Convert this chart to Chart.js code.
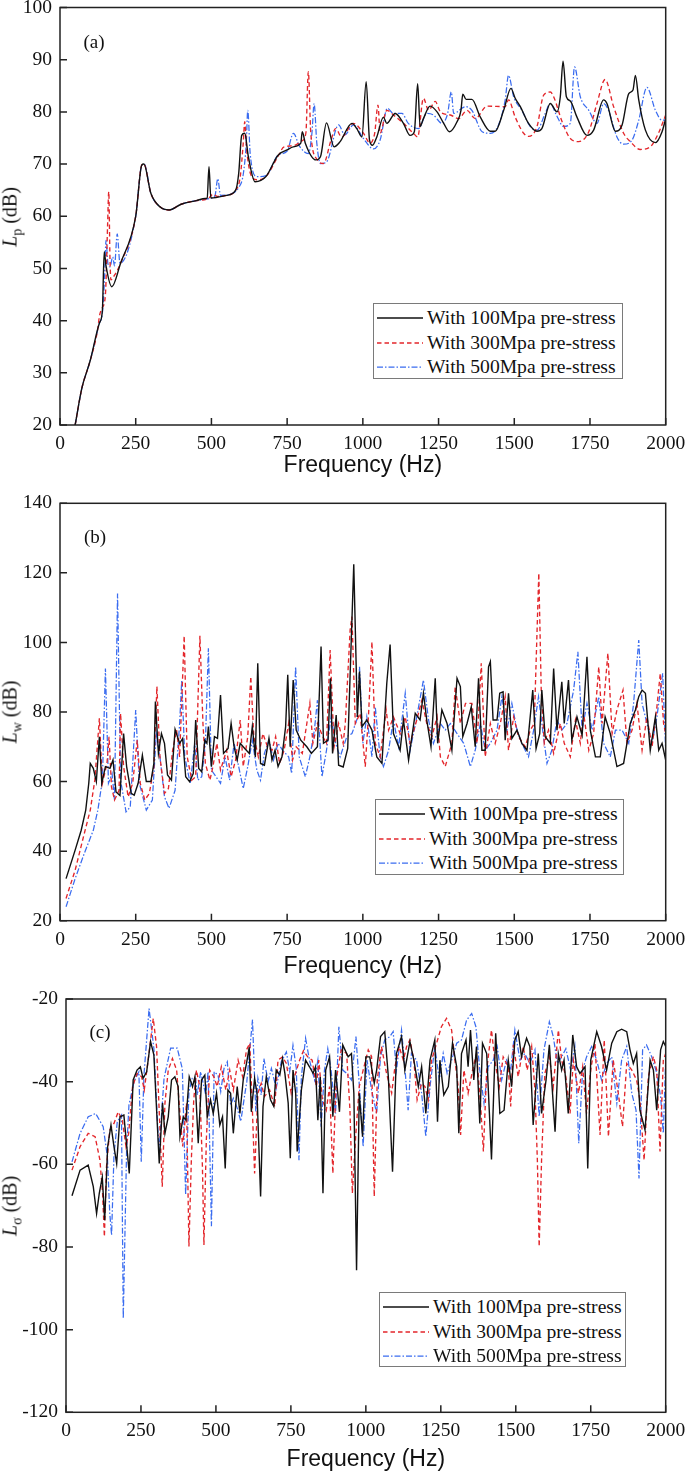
<!DOCTYPE html>
<html>
<head>
<meta charset="utf-8">
<script src="https://cdn.jsdelivr.net/npm/chart.js@4.4.0/dist/chart.umd.min.js"></script>
<style>
    body { margin: 0; background: #fff; width: 685px; height: 1474px; position: relative; overflow: hidden; font-family: "Liberation Serif", "Times New Roman", serif; color: #111; }
    canvas { position: absolute; left: 0; }
    .ytitle { position: absolute; font-size: 20px; white-space: nowrap; transform: translate(-50%, -50%) rotate(-90deg); }
    .ytitle sub { font-size: 14px; }
    .tag { position: absolute; font-size: 19px; transform: translate(-50%, -50%); }
    .legend { position: absolute; border: 1px solid #7a7a7a; background: #fff; box-sizing: border-box; }
    .legend .row { position: absolute; left: 0; height: 24px; line-height: 24px; font-size: 19.6px; white-space: nowrap; }
    .legend svg { position: absolute; left: 3px; top: 10px; }
    .legend span { position: absolute; left: 53px; top: 0; }
</style>
</head>
<body>
<canvas id="chartA" width="685" height="485" style="top:0px"></canvas>
<canvas id="chartB" width="685" height="490" style="top:490px"></canvas>
<canvas id="chartC" width="685" height="489" style="top:985px"></canvas>

<script>
/**
 * Three stacked frequency response plots (Lp, Lw, L-sigma) for three pre-stress levels.
 * Values are [frequency Hz, level dB] pairs.
 */

const seriesLabels = ['With 100Mpa pre-stress', 'With 300Mpa pre-stress', 'With 500Mpa pre-stress'];
const freqTicks = [0, 250, 500, 750, 1000, 1250, 1500, 1750, 2000];
const lpTicks = [20, 30, 40, 50, 60, 70, 80, 90, 100];
const lwTicks = [20, 40, 60, 80, 100, 120, 140];
const lsTicks = [-120, -100, -80, -60, -40, -20];

// (a) sound pressure level Lp
const lp100 = [[50,20],[72,27],[100,32.4],[130,39.5],[140,42],[146,53.2],[152,50.5],[171,46.5],[200,51],[250,60],[270,69.8],[277,70],[300,64.4],[330,61.8],[360,61.2],[400,62.3],[450,63],[480,63.4],[486,63.5],[492,69.5],[498,63.5],[550,64],[580,65],[590,68.2],[600,75.5],[610,75.9],[622,71.4],[644,66.6],[680,67.6],[720,71.7],[750,72.7],[770,73.3],[795,74],[800,76.2],[810,74],[845,70.8],[860,71.4],[880,77.9],[905,73.3],[925,74.3],[964,77.8],[980,76.8],[997,75.2],[1011,85.8],[1022,74.6],[1032,73.6],[1046,75.2],[1068,79],[1079,77.8],[1107,79.7],[1134,77.8],[1156,75.5],[1170,76.2],[1181,85.4],[1189,77.2],[1200,78.7],[1222,81.1],[1245,80],[1267,77.8],[1286,76.2],[1311,78.1],[1324,80.3],[1330,83.4],[1341,82.4],[1360,82.4],[1388,79],[1421,76.3],[1437,76.3],[1465,80.3],[1489,84.5],[1503,82.6],[1520,81],[1547,77.8],[1575,76.3],[1591,76.8],[1619,81.6],[1641,80],[1652,82.9],[1661,89.7],[1672,82.9],[1685,82.1],[1707,79],[1740,75.5],[1762,76.5],[1795,82.3],[1806,81.6],[1834,76.3],[1856,77.5],[1878,83.5],[1892,84.2],[1900,87],[1911,82.3],[1933,76.5],[1966,74.1],[1988,76.2],[2000,78.7]];
const lp300 = [[50,20],[72,27],[100,32.4],[125,38.5],[130,40.8],[140,42.5],[150,45],[157,58],[161,64.7],[165,52],[168,47.8],[180,48.7],[200,51],[250,60],[270,69.8],[277,70],[300,64.4],[330,61.8],[360,61.2],[400,62.3],[450,63],[490,63.4],[505,64.2],[520,63.8],[550,64],[580,65],[595,67.5],[605,74],[610,78.1],[616,73],[630,68],[650,67],[680,67.6],[720,71.5],[740,73.3],[770,73.5],[800,74.5],[812,76],[820,87.7],[828,76],[850,70.8],[870,70.1],[895,74.6],[910,76.8],[930,75.2],[969,77.8],[1002,75.9],[1024,74],[1039,75.9],[1050,81.3],[1057,75.9],[1079,80.3],[1101,79.4],[1134,77.8],[1167,75.9],[1181,75.2],[1200,82.6],[1217,80.3],[1239,82],[1256,80],[1289,79.4],[1316,78.7],[1344,80.3],[1371,78.7],[1410,81.1],[1470,81],[1481,82.3],[1503,79],[1531,75.9],[1547,75.3],[1575,77.2],[1597,83.2],[1619,83.8],[1630,82.9],[1658,78.1],[1685,74.9],[1713,74.3],[1746,76.2],[1773,81.6],[1800,86.2],[1828,81],[1861,75.9],[1883,74.3],[1916,72.8],[1949,73.3],[1976,75.9],[2000,79.4]];
const lp500 = [[50,20],[72,27],[100,32.4],[130,39.5],[140,41.5],[147,48],[152,55.4],[158,51],[165,50.3],[174,52.2],[180,50.5],[189,56.6],[198,51],[250,60],[270,69.8],[278,70],[300,64.4],[330,61.8],[360,61.2],[400,62.3],[450,63],[500,63.5],[512,64],[521,67.2],[530,64],[560,64.2],[590,65.5],[605,68],[615,74],[620,80.3],[628,72],[650,67.6],[680,67.8],[720,71.7],[750,72.5],[771,75.9],[790,73.5],[820,72],[832,76],[839,81.6],[848,74],[860,70.1],[880,70.4],[920,77.5],[940,75.6],[969,77.5],[1002,74.9],[1035,72.9],[1057,74.6],[1081,80.7],[1101,79.7],[1129,79.7],[1150,77.8],[1184,76.8],[1211,79.7],[1233,79.4],[1261,77.8],[1280,79.7],[1292,83.8],[1300,79.7],[1339,81],[1360,80.3],[1394,76.2],[1421,75.9],[1448,77.5],[1470,82.3],[1481,87],[1498,82.9],[1525,80.3],[1553,77.2],[1575,76.5],[1602,79.7],[1619,81.6],[1639,79.4],[1663,77.2],[1685,77.8],[1699,88.6],[1718,82.9],[1746,80.3],[1773,77.8],[1795,81.6],[1811,80.3],[1839,75.2],[1861,73.8],[1889,74.6],[1911,78.4],[1938,84.7],[1966,80.3],[1988,78.4],[2000,78.4]];

// (b) sound power level Lw
const lw100 = [[20,32.1],[50,40.3],[70,46],[85,51.8],[95,59.5],[100,65.2],[110,63.8],[120,60],[130,72.9],[138,59.5],[150,64.3],[165,63.8],[175,66.2],[185,57],[198,56],[210,73.8],[220,64.3],[235,56.6],[245,56.1],[258,59.5],[272,67.6],[285,60],[300,60],[310,65.2],[315,83],[325,68.1],[335,73.8],[345,71],[355,61.9],[368,60.4],[380,75],[395,71],[405,72.4],[415,61.4],[428,60],[440,62.3],[448,77.7],[458,63.8],[468,62.8],[478,71.9],[485,71],[490,75.8],[500,64.3],[510,72.9],[520,72.4],[530,84.9],[540,68.1],[555,69.5],[565,76.7],[575,70],[585,66.2],[595,71],[610,69.5],[625,68.1],[635,75.8],[645,67.1],[653,94],[662,65.2],[675,64.7],[690,72.4],[700,66.2],[710,69],[720,64.3],[733,67.1],[745,75.8],[752,90.7],[760,70],[770,89.2],[780,74.8],[795,71.9],[815,70],[830,68.1],[850,70],[862,98.8],[870,71],[885,71.9],[893,89.7],[900,68.1],[912,79.1],[920,64.7],[935,64.2],[950,69.5],[970,122.5],[982,78.6],[989,91.6],[997,75.8],[1013,77.7],[1030,74.8],[1046,67.1],[1063,65.2],[1079,88.2],[1090,99.4],[1101,73.8],[1123,69],[1134,77.7],[1151,66.2],[1173,79.6],[1189,77.7],[1200,85.4],[1211,77.7],[1225,70],[1239,89.7],[1247,71],[1261,80.6],[1278,76.7],[1294,69],[1311,89.7],[1322,87.3],[1330,72.9],[1344,76.7],[1358,81.5],[1371,70],[1382,89.7],[1393,69],[1404,69],[1415,93],[1421,94.5],[1430,77.7],[1443,77.7],[1452,85.4],[1463,85.8],[1470,71.9],[1481,85.4],[1492,72.4],[1509,74.8],[1525,71],[1542,69],[1561,86.3],[1572,69.5],[1584,73.8],[1591,86.3],[1602,72.9],[1619,71],[1630,92.5],[1641,74.8],[1657,88.7],[1665,76.7],[1679,89.2],[1690,71.9],[1707,78.6],[1724,73.3],[1740,95.9],[1751,74.8],[1768,67.1],[1784,67.1],[1800,78.6],[1817,73.8],[1839,64.3],[1861,65.2],[1883,76.7],[1900,80.6],[1911,84.4],[1922,86.3],[1933,85.4],[1949,69],[1966,78.6],[1977,69],[1988,71],[2000,66.2]];
const lw300 = [[20,26.4],[50,34.5],[80,45],[100,51.8],[115,60.4],[130,78.2],[140,59.5],[155,65.2],[162,72.9],[170,58.5],[180,54.7],[195,57.5],[200,79.6],[210,64.3],[225,55.6],[240,59.5],[255,71.9],[265,59.5],[280,54.7],[295,56.6],[310,64.3],[320,87.3],[330,67.1],[345,56.6],[358,58],[372,69],[385,74.8],[395,67.1],[410,101.9],[420,67.1],[435,60.4],[448,61.4],[462,101.9],[472,76.7],[480,65.2],[495,60.4],[505,64.3],[518,71],[530,63.3],[550,69],[565,61.4],[580,66.2],[595,77.7],[605,64.3],[620,72.9],[630,90.2],[640,72.9],[655,67.1],[670,73.8],[685,70],[700,69],[712,72.9],[725,65.2],[740,69],[755,76.7],[768,66.2],[780,70],[800,68.1],[815,76.7],[825,82.5],[835,71],[850,76.7],[868,72.9],[880,71],[892,97.8],[905,70],[920,76.7],[935,71],[942,76.7],[958,103.6],[964,107.4],[975,76.7],[991,79.6],[1008,64.3],[1019,79.6],[1030,100.2],[1041,71],[1057,67.1],[1077,80.6],[1085,74.8],[1101,78.6],[1123,73.8],[1140,78.6],[1156,71],[1178,77.7],[1195,83.4],[1211,76.7],[1228,72.9],[1245,78.6],[1256,67.1],[1272,64.3],[1294,71],[1305,87.3],[1322,76.7],[1339,82.5],[1360,82.5],[1377,71],[1391,94],[1404,67.1],[1421,76.7],[1437,71],[1454,76.7],[1470,84.4],[1481,69],[1498,78.6],[1514,72.9],[1536,70],[1553,74.8],[1566,76.7],[1581,119.9],[1589,86.3],[1599,71],[1613,74.8],[1630,68.1],[1652,76.7],[1665,71],[1685,67.1],[1702,77.7],[1718,71],[1729,79.6],[1746,69],[1762,73.8],[1779,93],[1790,76.7],[1809,96.9],[1823,73.8],[1839,80.6],[1859,86.3],[1872,71],[1889,74.8],[1905,82.5],[1922,69],[1938,78.6],[1955,70],[1971,81.5],[1982,91.1],[1993,76.7],[2000,73.8]];
const lw500 = [[20,24],[50,32.1],[80,39.3],[110,46],[125,51.8],[140,60.4],[150,92.5],[160,59.5],[172,62.3],[180,54.7],[190,114.1],[200,60.4],[218,51.3],[232,52.7],[250,80.6],[262,59.5],[285,51.8],[305,54.7],[318,73.8],[330,67.1],[345,55.6],[360,52.3],[380,57.5],[395,76.7],[402,89.2],[412,67.1],[430,59.5],[445,71],[455,60.4],[468,61.4],[480,71],[490,98.3],[500,63.3],[515,61.4],[530,59.5],[545,67.1],[560,60.4],[575,71],[590,64.3],[605,58],[620,64.3],[635,71.9],[650,63.3],[662,60.4],[675,68.1],[690,71.9],[705,66.2],[720,71],[735,69],[755,67.1],[765,62.3],[778,93],[790,67.1],[810,61.4],[825,67.1],[840,74.8],[850,83.4],[865,61.4],[880,69],[895,78.6],[910,71],[925,67.1],[947,72.9],[964,73.8],[980,77.7],[989,93],[1000,71],[1013,78.6],[1030,67.1],[1041,81.5],[1057,67.1],[1068,64.3],[1085,69],[1101,77.7],[1118,70],[1140,85.4],[1156,69],[1178,78.6],[1200,89.2],[1217,77.7],[1233,71],[1256,76.7],[1272,74.8],[1289,76.7],[1311,73.8],[1333,71],[1355,64.3],[1371,69],[1388,76.7],[1404,69],[1421,71],[1443,74.8],[1459,84.4],[1476,74.8],[1492,82.5],[1509,74.8],[1525,71],[1547,67.1],[1564,74.8],[1580,84.4],[1591,76.7],[1608,65.2],[1624,69],[1641,77.7],[1657,74.8],[1674,76.7],[1696,86.3],[1710,97.3],[1724,74.8],[1740,82.5],[1757,74.8],[1779,84.4],[1795,71],[1817,67.1],[1834,74.8],[1856,74.8],[1878,71],[1894,82.5],[1911,100.7],[1922,82.5],[1938,76.7],[1955,71],[1971,78.6],[1990,91.1],[2000,69]];

// (c) radiation efficiency L-sigma
const ls100 = [[20,-67.6],[47,-61.4],[74,-60.2],[91,-65.4],[102,-71.9],[111,-67],[121,-63.1],[129,-73.5],[139,-55.7],[150,-50.5],[160,-55.7],[169,-59.8],[180,-48.5],[193,-48.1],[211,-62.2],[224,-39.6],[237,-37.2],[248,-36.4],[257,-39.2],[269,-37.6],[282,-30.3],[293,-33.5],[311,-59.8],[322,-45.2],[330,-52.5],[341,-48.5],[352,-39.6],[363,-38.8],[374,-41.2],[380,-53.3],[391,-48.5],[400,-49.3],[411,-38.8],[422,-41.2],[430,-38.8],[441,-54.9],[452,-39.6],[463,-38.4],[471,-48.5],[482,-44.4],[491,-47.7],[502,-42.8],[513,-50.5],[522,-48.5],[531,-61],[540,-42],[549,-42.8],[558,-52.5],[571,-41.2],[580,-47.7],[591,-39.6],[602,-35.6],[611,-31.7],[618,-47.3],[629,-39.2],[637,-42.8],[649,-67.8],[657,-46],[668,-38.8],[682,-44.4],[693,-46],[701,-37.2],[713,-38.4],[722,-34.4],[730,-38],[741,-45.2],[748,-58.5],[757,-37.2],[766,-42.8],[771,-56.9],[785,-42],[799,-34.8],[812,-36.4],[824,-38],[832,-36.4],[840,-49.3],[848,-38.8],[857,-67],[866,-37.2],[879,-34],[890,-48.5],[899,-37.2],[912,-47.3],[923,-31.1],[941,-34],[952,-33.2],[960,-42.8],[969,-85.6],[978,-42.8],[989,-53.3],[1000,-34],[1013,-34],[1028,-40.4],[1036,-37.2],[1049,-29.1],[1063,-27.9],[1075,-38.8],[1089,-61.8],[1102,-33.2],[1119,-29.1],[1130,-37.2],[1147,-30.3],[1160,-34.8],[1175,-41.2],[1186,-36.4],[1200,-47.7],[1214,-34.8],[1230,-29.9],[1239,-49.7],[1247,-34.8],[1260,-43.2],[1275,-41.2],[1289,-30.7],[1303,-36.4],[1310,-52.5],[1319,-33.2],[1334,-29.9],[1341,-36.4],[1349,-27.5],[1360,-39.6],[1369,-31.5],[1380,-50.1],[1389,-30.7],[1403,-33.2],[1419,-58.8],[1433,-28.3],[1447,-47.7],[1461,-46.9],[1475,-34.8],[1486,-41.2],[1497,-29.9],[1508,-27.9],[1519,-33.9],[1536,-29.5],[1547,-31.5],[1558,-50.5],[1575,-33.2],[1586,-47.7],[1601,-39.6],[1612,-31.1],[1631,-52.1],[1642,-33.2],[1653,-37.2],[1661,-34.8],[1675,-47.7],[1690,-28.7],[1703,-36.4],[1714,-38],[1731,-36.4],[1740,-61],[1750,-34.8],[1770,-27.9],[1786,-31.5],[1803,-37.2],[1820,-30.7],[1837,-27.9],[1853,-27.3],[1870,-27.9],[1881,-32.3],[1892,-35.6],[1903,-33.2],[1914,-46.9],[1931,-51.7],[1948,-34.8],[1959,-37.2],[1970,-46.9],[1983,-32.3],[1992,-30.3],[2000,-31.5]];
const ls300 = [[20,-61.4],[47,-55.7],[74,-52.5],[97,-53.3],[113,-58.9],[122,-67],[128,-77.5],[135,-60.6],[146,-51.7],[160,-50.1],[174,-47.3],[188,-49.3],[200,-55.7],[209,-52.5],[222,-41.2],[237,-38],[252,-38.8],[261,-42],[274,-34.8],[291,-24.7],[302,-31.5],[313,-50.9],[321,-65.4],[330,-45.2],[341,-37.2],[355,-34.4],[369,-37.2],[380,-47.7],[389,-55.7],[397,-49.3],[402,-45.2],[410,-79.9],[418,-59],[426,-44.4],[435,-37.2],[446,-41.2],[455,-60.6],[460,-79.5],[468,-54.1],[479,-37.2],[493,-38.8],[504,-41.2],[518,-36.4],[533,-42],[546,-37.2],[558,-42],[574,-34.8],[589,-38.8],[602,-32.3],[613,-30.7],[622,-47.7],[629,-62.2],[640,-42.8],[651,-40.4],[662,-43.6],[679,-42],[696,-46],[707,-34.8],[722,-34],[735,-35.6],[751,-42.8],[762,-38.8],[779,-34.8],[792,-32.5],[806,-34],[821,-34.8],[835,-41.2],[843,-34.8],[855,-44.4],[868,-46.9],[879,-41.2],[890,-62.2],[901,-39.6],[918,-32.3],[936,-33.2],[947,-46.9],[955,-67],[966,-53.3],[978,-41.2],[991,-37.2],[1008,-32.3],[1019,-33.9],[1028,-67.8],[1038,-39.6],[1052,-31.5],[1069,-38],[1086,-42.8],[1097,-36.4],[1111,-31.5],[1125,-34.8],[1136,-31.5],[1147,-29.9],[1160,-34.8],[1171,-44.4],[1186,-40.4],[1197,-41.2],[1208,-44.4],[1219,-34.8],[1236,-30.7],[1252,-26.7],[1269,-24.7],[1286,-27.5],[1297,-34.8],[1308,-41.2],[1316,-52.9],[1327,-37.2],[1341,-42.8],[1356,-37.2],[1369,-33.2],[1383,-46],[1392,-56.9],[1403,-37.2],[1419,-27.5],[1430,-34.8],[1445,-41.2],[1458,-34],[1475,-36.4],[1483,-46],[1492,-31.1],[1508,-38.8],[1525,-31.5],[1538,-37.2],[1553,-31.5],[1564,-42],[1572,-59],[1578,-79.9],[1586,-59],[1597,-38],[1612,-34],[1625,-41.2],[1642,-27.5],[1653,-34.8],[1667,-38.8],[1681,-47.7],[1692,-34.8],[1709,-42.8],[1723,-36.4],[1736,-47.7],[1750,-37.2],[1764,-30.7],[1781,-52.9],[1795,-29.9],[1809,-53.3],[1825,-34.8],[1842,-42.8],[1856,-50.9],[1870,-35.6],[1887,-37.2],[1903,-39.6],[1914,-44.4],[1928,-59],[1942,-38.8],[1959,-33.9],[1970,-37.2],[1981,-56.9],[1992,-34.8],[2000,-33.2]];
const ls500 = [[20,-59.4],[47,-52.5],[74,-48.5],[99,-47.7],[124,-50.9],[138,-58.1],[146,-71.9],[152,-77.1],[160,-57.7],[171,-49.7],[185,-48.1],[191,-97.3],[202,-56.9],[210,-45.6],[227,-40],[243,-37.6],[251,-59.4],[260,-38.4],[277,-22.3],[293,-31.9],[310,-56.9],[327,-39.2],[349,-31.9],[371,-31.9],[388,-36.9],[399,-67.4],[410,-42.4],[421,-39.2],[432,-39.2],[438,-43.2],[449,-37.6],[466,-43.2],[474,-37.6],[485,-75],[494,-37.6],[507,-38.4],[516,-42.4],[527,-36.8],[538,-35.2],[549,-45.6],[558,-44],[571,-46.4],[583,-49.6],[596,-43.2],[603,-40],[622,-25],[633,-47.2],[640,-39.2],[651,-43.2],[660,-34.4],[674,-40],[685,-36.8],[701,-41.6],[718,-35.2],[735,-32.8],[746,-37.6],[757,-31.2],[768,-36.8],[777,-59],[785,-38.8],[799,-29.5],[812,-34.8],[829,-39.6],[840,-34.8],[851,-50.9],[862,-37.2],[873,-32],[884,-37.2],[899,-47.7],[910,-26.7],[923,-37.2],[936,-38],[952,-39.6],[967,-29.1],[980,-42.8],[991,-55.7],[1004,-34.8],[1019,-42],[1036,-47.7],[1049,-33.9],[1063,-29.9],[1080,-29.1],[1091,-27.9],[1102,-37.2],[1119,-27.5],[1130,-36.4],[1141,-46.9],[1152,-33.2],[1169,-34.8],[1186,-42.8],[1200,-53.3],[1214,-41.2],[1230,-31.5],[1245,-39.6],[1258,-33.2],[1271,-38],[1286,-34.8],[1303,-30.7],[1319,-29.9],[1336,-25.1],[1353,-23.5],[1367,-26.7],[1380,-37.2],[1394,-45.2],[1408,-36.4],[1425,-34.8],[1438,-31.5],[1453,-39.6],[1469,-34.8],[1483,-37.2],[1497,-27.5],[1514,-34.8],[1530,-33.2],[1547,-35.6],[1564,-32.3],[1578,-48.5],[1594,-32.3],[1612,-25.5],[1625,-29.1],[1639,-35.6],[1653,-34],[1667,-32],[1683,-37.2],[1697,-31.5],[1710,-54.9],[1723,-37.2],[1736,-34],[1753,-31.5],[1770,-34.8],[1786,-39.6],[1803,-35.6],[1820,-34],[1837,-45.2],[1853,-34.8],[1870,-31.5],[1887,-42.8],[1901,-46.9],[1911,-63.4],[1923,-32.3],[1936,-31.1],[1953,-33.9],[1970,-37.9],[1983,-43.6],[1992,-52.5],[2000,-34.8]];

// line styles per pre-stress level
const lineStyles = [
    { color: '#111111', dash: [], width: 1.4 },
    { color: '#e3262b', dash: [4.5, 3], width: 1.35 },
    { color: '#3a6cf0', dash: [6, 2, 1.5, 2], width: 1.25 }
];

/**
 * Frame + inward tick marks (the original plot has a closed box)
 */
const framePlugin = {
    id: 'frame',
    afterDraw(chart) {
        const { ctx, chartArea: a, scales: { x, y } } = chart;
        ctx.save();
        ctx.strokeStyle = '#222';
        ctx.lineWidth = 1.5;
        ctx.strokeRect(a.left, a.top, a.right - a.left, a.bottom - a.top);
        ctx.beginPath();
        x.ticks.forEach(t => {
            const px = x.getPixelForValue(t.value);
            ctx.moveTo(px, a.bottom);
            ctx.lineTo(px, a.bottom - 7);
        });
        y.ticks.forEach(t => {
            const py = y.getPixelForValue(t.value);
            ctx.moveTo(a.left, py);
            ctx.lineTo(a.left + 7, py);
        });
        ctx.stroke();
        ctx.restore();
    }
};

function toPoints(pairs) {
    return pairs.map(p => ({ x: p[0], y: p[1] }));
}

/**
 * Build one panel
 */
function makePanel(cfg) {
    const canvas = document.getElementById(cfg.canvasId);
    const tickFont = { family: 'Liberation Serif', size: 19.5 };

    const datasets = cfg.series.map((s, i) => ({
        label: seriesLabels[i],
        data: toPoints(s),
        borderColor: lineStyles[i].color,
        borderDash: lineStyles[i].dash,
        borderWidth: lineStyles[i].width,
        pointRadius: 0,
        fill: false,
        tension: 0,
        cubicInterpolationMode: cfg.smooth ? 'monotone' : 'default'
    }));

    new Chart(canvas.getContext('2d'), {
        type: 'line',
        data: { datasets },
        options: {
            responsive: false,
            animation: false,
            events: [],
            layout: { padding: { top: cfg.chartTop, right: 685 - cfg.chartRight, left: 0, bottom: 0 } },
            scales: {
                x: {
                    type: 'linear',
                    min: 0,
                    max: 2000,
                    afterBuildTicks: s => { s.ticks = freqTicks.map(v => ({ value: v })); },
                    afterFit: s => { s.height = cfg.xAxisHeight; s.paddingLeft = 0; s.paddingRight = 0; },
                    grid: { display: false, drawTicks: false },
                    border: { display: false },
                    ticks: {
                        autoSkip: false,
                        maxRotation: 0,
                        padding: 7,
                        color: '#111',
                        font: tickFont,
                        callback: v => String(v)
                    },
                    title: {
                        display: true,
                        text: 'Frequency (Hz)',
                        color: '#111',
                        font: { family: 'Liberation Sans', size: 23 },
                        padding: { top: 0, bottom: cfg.titlePad }
                    }
                },
                y: {
                    type: 'linear',
                    min: cfg.yTicks[0],
                    max: cfg.yTicks[cfg.yTicks.length - 1],
                    afterBuildTicks: s => { s.ticks = cfg.yTicks.map(v => ({ value: v })); },
                    afterFit: s => { s.width = cfg.chartLeft; s.paddingTop = 0; s.paddingBottom = 0; },
                    grid: { display: false, drawTicks: false },
                    border: { display: false },
                    ticks: {
                        autoSkip: false,
                        padding: 8,
                        color: '#111',
                        font: tickFont,
                        callback: v => String(v)
                    }
                }
            },
            plugins: {
                legend: { display: false },
                tooltip: { enabled: false }
            }
        },
        plugins: [framePlugin]
    });

    // axis title with subscript, panel tag and legend as HTML overlays
    const yt = document.createElement('div');
    yt.className = 'ytitle';
    yt.style.left = '12px';
    yt.style.top = cfg.yTitleY + 'px';
    yt.innerHTML = '<i>L</i><sub>' + cfg.sub + '</sub> (dB)';
    document.body.appendChild(yt);

    const tag = document.createElement('div');
    tag.className = 'tag';
    tag.style.left = cfg.tag.x + 'px';
    tag.style.top = cfg.tag.y + 'px';
    tag.textContent = cfg.tag.text;
    document.body.appendChild(tag);

    const lg = document.createElement('div');
    lg.className = 'legend';
    lg.style.left = cfg.legend.left + 'px';
    lg.style.top = cfg.legend.top + 'px';
    lg.style.width = cfg.legend.w + 'px';
    lg.style.height = cfg.legend.h + 'px';
    seriesLabels.forEach((label, i) => {
        const st = lineStyles[i];
        const row = document.createElement('div');
        row.className = 'row';
        row.style.top = (2 + i * 24.5) + 'px';
        row.innerHTML =
            '<svg width="46" height="4"><line x1="0" y1="2" x2="46" y2="2" stroke="' + st.color +
            '" stroke-width="' + st.width + '" stroke-dasharray="' + (st.dash.length ? st.dash.join(' ') : 'none') + '"/></svg>' +
            '<span>' + label + '</span>';
        lg.appendChild(row);
    });
    document.body.appendChild(lg);
}

makePanel({
    canvasId: 'chartA', series: [lp100, lp300, lp500], yTicks: lpTicks, smooth: true,
    chartTop: 7.5, chartLeft: 60, chartRight: 665.7, xAxisHeight: 60, titlePad: 6,
    sub: 'p', yTitleY: 217,
    tag: { text: '(a)', x: 94, y: 42 },
    legend: { left: 373, top: 303, w: 250, h: 76 }
});

makePanel({
    canvasId: 'chartB', series: [lw100, lw300, lw500], yTicks: lwTicks, smooth: false,
    chartTop: 13.3, chartLeft: 60, chartRight: 665.7, xAxisHeight: 59.3, titlePad: 0,
    sub: 'w', yTitleY: 712,
    tag: { text: '(b)', x: 95, y: 537 },
    legend: { left: 375, top: 799, w: 249, h: 76 }
});

makePanel({
    canvasId: 'chartC', series: [ls100, ls300, ls500], yTicks: lsTicks, smooth: false,
    chartTop: 14, chartLeft: 66, chartRight: 665.7, xAxisHeight: 61.7, titlePad: 1,
    sub: 'σ', yTitleY: 1206,
    tag: { text: '(c)', x: 100, y: 1032 },
    legend: { left: 379, top: 1292, w: 247, h: 75 }
});
</script>
</body>
</html>
